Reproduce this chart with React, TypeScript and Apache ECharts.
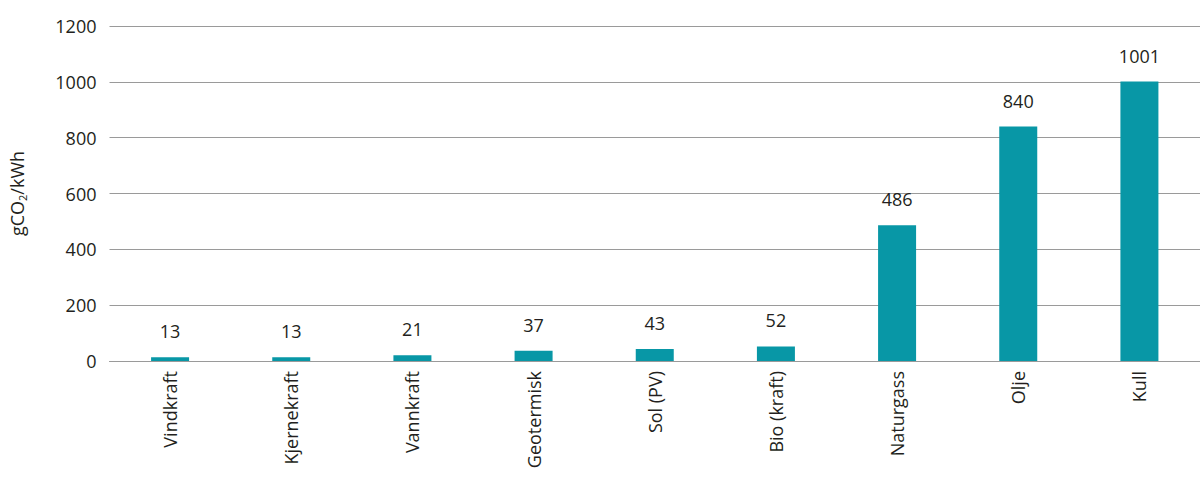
import React, { useEffect, useRef } from "react";
import * as echarts from "echarts";

const categories = ["Vindkraft", "Kjernekraft", "Vannkraft", "Geotermisk", "Sol (PV)", "Bio (kraft)", "Naturgass", "Olje", "Kull"];
const values = [13, 13, 21, 37, 43, 52, 486, 840, 1001];

export default function App() {
  const ref = useRef<HTMLDivElement>(null);
  useEffect(() => {
    const chart = echarts.init(ref.current!, null, { renderer: "svg" });
    const font = "Open Sans";
    chart.setOption({
      animation: false,
      grid: { left: 108, right: 0, top: 26, bottom: 134, containLabel: false },
      xAxis: {
        type: "category",
        data: categories,
        axisLine: { show: true, lineStyle: { color: "#9a9a9a", width: 1 } },
        axisTick: { show: false },
        axisLabel: { rotate: 90, color: "#231f20", fontSize: 18, fontFamily: font, margin: 10 },
      },
      yAxis: {
        type: "value",
        min: 0,
        max: 1200,
        interval: 200,
        name: "{a|gCO}{s|2}{a|/kWh}",
        nameLocation: "middle",
        nameGap: 82,
        nameRotate: 90,
        nameTextStyle: {
          rich: {
            a: { fontSize: 18, fontFamily: font, color: "#231f20" },
            s: { fontSize: 11, fontFamily: font, color: "#231f20", verticalAlign: "bottom", padding: [10, 0, 0, 0] },
          },
        },
        axisLine: { show: false },
        axisTick: { show: false },
        axisLabel: { color: "#231f20", fontSize: 18, fontFamily: font, margin: 13, formatter: (v: number) => String(v) },
        splitLine: { lineStyle: { color: "#9a9a9a", width: 1 } },
      },
      series: [
        {
          type: "bar",
          data: values,
          barWidth: 38,
          itemStyle: { color: "#0897a6" },
          label: { show: true, position: "top", distance: 17, color: "#231f20", fontSize: 18, fontFamily: font },
        },
      ],
    });
    return () => chart.dispose();
  }, []);
  return <div ref={ref} style={{ position: "fixed", left: 0, top: 0, width: 1200, height: 495, background: "#fff" }} />;
}
